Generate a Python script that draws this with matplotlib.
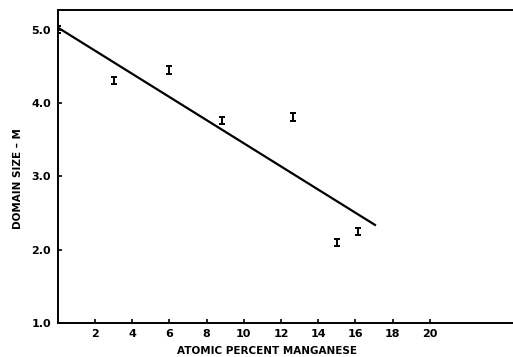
import matplotlib
matplotlib.use("Agg")
import matplotlib.pyplot as plt

# domain size measurements vs. Mn content
mn_pct = [0.0, 3.0, 6.0, 8.8, 12.65, 15.0, 16.15]
domain_size = [5.0, 4.31, 4.45, 3.76, 3.81, 2.10, 2.25]
size_err = [0.05, 0.05, 0.05, 0.05, 0.05, 0.05, 0.05]

# least-squares line
fit_x = [0.0, 17.1]
fit_y = [5.03, 2.33]

xticks = [2, 4, 6, 8, 10, 12, 14, 16, 18, 20]
yticks = [1.0, 2.0, 3.0, 4.0, 5.0]

plt.rcParams['font.family'] = ['DejaVu Sans']
fig = plt.figure(figsize=(5.13, 3.57), dpi=100)
ax = fig.add_axes([0.1127, 0.0952, 0.8873, 0.877])

ax.plot(fit_x, fit_y, color='black', lw=1.6, solid_capstyle='butt')
ax.errorbar(mn_pct, domain_size, yerr=size_err, fmt='none', ecolor='black',
            elinewidth=1.4, capsize=2.5, capthick=1.4)

ax.set_xlim(0, 24.47)
ax.set_ylim(1.0, 5.27)
ax.set_xticks(xticks)
ax.set_xticklabels([str(t) for t in xticks])
ax.set_yticks(yticks)
ax.set_yticklabels(['%.1f' % t for t in yticks])
ax.tick_params(direction='in', length=3, width=1.2, labelsize=8)
ax.tick_params(axis='x', pad=4)
ax.tick_params(axis='y', pad=5)
for lbl in ax.get_xticklabels() + ax.get_yticklabels():
    lbl.set_fontweight('bold')

ax.spines['right'].set_visible(False)
for s in ['left', 'bottom', 'top']:
    ax.spines[s].set_linewidth(1.4)

ax.set_xlabel('ATOMIC PERCENT MANGANESE', fontsize=7.5, fontweight='bold')
ax.xaxis.set_label_coords(0.46, -0.075)
ax.set_ylabel('DOMAIN SIZE – M', fontsize=7.5, fontweight='bold')
ax.yaxis.set_label_coords(-0.077, 0.46)

fig.savefig('out.png', dpi=100)
